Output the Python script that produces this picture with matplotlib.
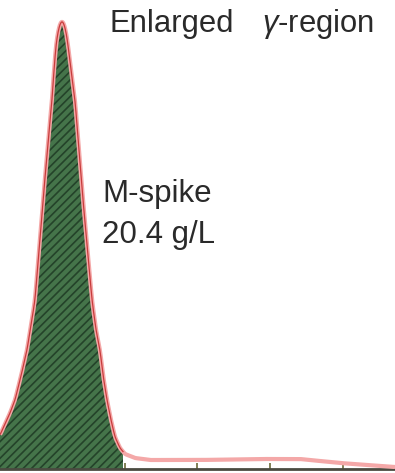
import numpy as np
import matplotlib
matplotlib.use("Agg")
import matplotlib.pyplot as plt

# Densitometry trace of the gamma region (migration distance vs. relative absorbance)
migration = [0, 5, 10, 15, 21, 27, 31, 35, 39, 43, 47.5, 52, 54, 56, 58, 60, 62,
             64, 66, 68, 71, 75, 79, 83, 87.5, 92, 96, 100, 103, 107, 111, 115,
             120, 125, 135, 150, 200, 260, 300, 340, 380, 395]
absorbance = [34, 45, 56, 69, 93, 119, 144, 169, 219, 269, 319, 369, 399, 424,
              437, 445, 448, 445, 437, 424, 399, 369, 319, 269, 219, 169, 139,
              119, 94, 69, 49, 32, 21, 15, 11, 9, 9, 10, 10, 6, 3, 2]
spike_end = 123
tick_positions = [52, 125, 197, 270, 343]
title_left = "Enlarged"
title_right = r"$\gamma$-region"
spike_name = "M-spike"
spike_value = "20.4 g/L"

plt.rcParams['font.family'] = ['Liberation Sans', 'DejaVu Sans']
plt.rcParams['mathtext.fontset'] = 'custom'
plt.rcParams['mathtext.it'] = 'Liberation Sans:italic'
plt.rcParams['mathtext.rm'] = 'Liberation Sans'
plt.rcParams['hatch.linewidth'] = 1.2

fig = plt.figure(figsize=(3.95, 4.73), dpi=100)
ax = fig.add_axes([0, 4 / 473, 1, 469 / 473])

xs = np.linspace(0, 395, 1581)
ys = np.interp(xs, migration, absorbance)
# light smoothing of the piecewise trace
k = np.exp(-0.5 * (np.arange(-8, 9) / 3.0) ** 2)
k /= k.sum()
pad = np.pad(ys, 8, mode="edge")
ys = np.convolve(pad, k, mode="valid")

mask = xs <= spike_end
ax.fill_between(xs[mask], 0, ys[mask], facecolor="#45744a", edgecolor="#24432a",
                hatch="////", linewidth=0, zorder=2)
ax.plot(xs, ys, color="#f4a8a8", lw=3.0, solid_capstyle="butt", zorder=3)
ax.plot(xs[mask], ys[mask], color="#c83c3c", lw=0.9, zorder=4)

ax.set_xlim(0, 395)
ax.set_ylim(0, 469)
for s in ["top", "left", "right"]:
    ax.spines[s].set_visible(False)
ax.spines["bottom"].set_color("#4a4a40")
ax.spines["bottom"].set_linewidth(2)
ax.set_yticks([])
ax.set_xticks(tick_positions)
ax.set_xticklabels([])
ax.tick_params(axis="x", direction="in", length=4, width=1.2, color="#6b6b3a")

txt = dict(color="#2a2a2a", ha="left", va="baseline")
ax.text(109, 469 - 32, title_left, fontsize=22.3, **txt)
ax.text(262, 469 - 32, title_right, fontsize=22.3, **txt)
ax.text(102, 469 - 202, spike_name, fontsize=22.5, **txt)
ax.text(102, 469 - 243, spike_value, fontsize=22.5, **txt)

fig.savefig("out.png", dpi=100)
